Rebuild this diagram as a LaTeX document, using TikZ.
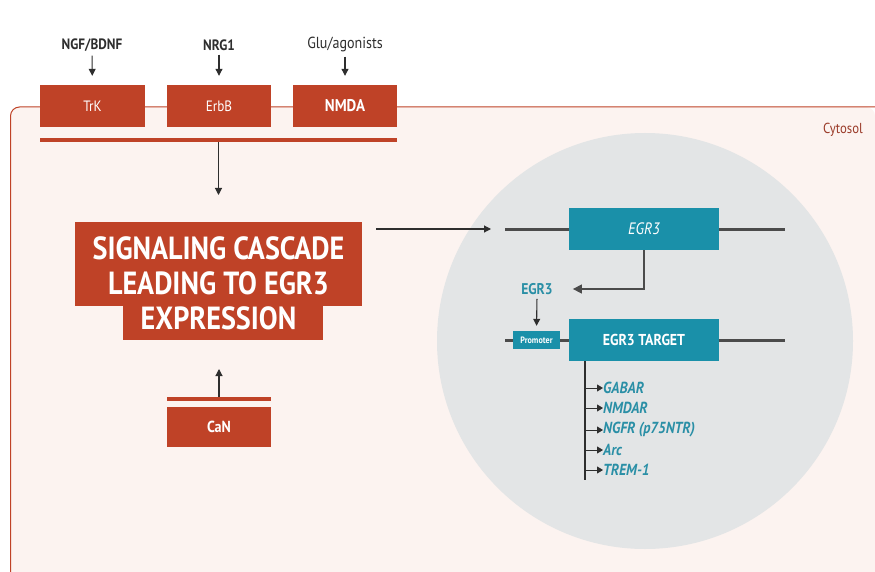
\documentclass[tikz,border=0pt]{standalone}
\usepackage{fontspec}
\setmainfont{PT Sans}[FakeStretch=0.88]
\usetikzlibrary{arrows.meta}
\definecolor{rust}{HTML}{BF4227}
\definecolor{rustdark}{HTML}{9A3A28}
\definecolor{teal}{HTML}{1A90A9}
\definecolor{tealtext}{HTML}{2A8FA6}
\definecolor{cytofill}{HTML}{FCF3F0}
\definecolor{nucfill}{HTML}{E3E5E6}
\definecolor{gline}{HTML}{4B4B4B}
\definecolor{ink}{HTML}{2E2E2E}
\tikzset{
  rbox/.style={fill=rust,text=white,inner sep=0pt,font=\fontsize{15}{17}\selectfont},
  tbox/.style={fill=teal,text=white,inner sep=0pt,minimum width=150pt,minimum height=42pt},
  toplbl/.style={text=ink,inner sep=1pt,font=\fontsize{16}{18}\selectfont},
  arr/.style={draw=ink,line width=1.1pt,-{Triangle[length=7pt,width=7pt]}},
  geneline/.style={draw=gline,line width=3pt},
  listlbl/.style={anchor=west,text=tealtext,inner sep=0pt,font=\fontsize{16}{18}\selectfont\bfseries\itshape},
}
\begin{document}
\begin{tikzpicture}[x=1pt,y=-1pt]
\useasboundingbox (0,0) rectangle (875,572);
\fill[white] (0,0) rectangle (875,572);
% cytosol
\fill[cytofill] (10.5,572) [rounded corners=9pt] -- (10.5,107) -- (875,107) [sharp corners] -- (875,572) -- cycle;
\draw[rust,line width=1pt] (10.5,572) [rounded corners=9pt] -- (10.5,107) -- (875,107);
\node[text=rustdark,font=\fontsize{14.5}{16}\selectfont,inner sep=0pt] (cyto) at (843,130) {Cytosol};
% nucleus
\fill[nucfill] (645,341) circle[radius=208pt];
% receptors
\node[rbox,minimum width=105pt,minimum height=42pt] (trk) at (92.5,106) {TrK};
\node[rbox,minimum width=104pt,minimum height=42pt] (erbb) at (219,106) {ErbB};
\node[rbox,minimum width=104pt,minimum height=42pt,font=\fontsize{17}{19}\selectfont\bfseries] (nmda) at (345,106) {NMDA};
\node[fill=rust,inner sep=0pt,minimum width=357pt,minimum height=4pt] (bar) at (218.5,140) {};
\node[toplbl,font=\fontsize{15}{17}\selectfont\bfseries] (ngf) at (92,45) {NGF/BDNF};
\node[toplbl,font=\fontsize{15}{17}\selectfont\bfseries] (nrg) at (219,45) {NRG1};
\node[toplbl] (glu) at (345,45) {Glu/agonists};
\draw[arr,shorten <=3pt,shorten >=9pt] (ngf) -- (trk);
\draw[arr,shorten <=3pt,shorten >=9pt] (nrg) -- (erbb);
\draw[arr,shorten <=3pt,shorten >=9pt] (glu) -- (nmda);
% cascade
\fill[rust] (75,222) rectangle (362,306);
\fill[rust] (123,305) rectangle (323,340);
\node[text=white,align=center,inner sep=0pt,font=\fontsize{32}{35}\selectfont\bfseries] (casc) at (218.5,283) {SIGNALING CASCADE\\LEADING TO EGR3\\EXPRESSION};
\coordinate (cascin) at (218.5,195);
\draw[arr] (bar.south) -- (cascin);
% CaN
\node[fill=rust,inner sep=0pt,minimum width=104pt,minimum height=4pt] (canbar) at (219,399) {};
\node[rbox,minimum width=104pt,minimum height=40pt,font=\fontsize{16}{18}\selectfont\bfseries] (can) at (219,427) {CaN};
\coordinate (canout) at (219,369);
\draw[arr] (canbar.north) -- (canout);
% EGR3 gene
\draw[geneline] (505,229) -- (785,229);
\node[tbox,font=\fontsize{16.5}{18}\selectfont\itshape] (egr3g) at (644,229) {EGR3};
\coordinate (cascout) at (376,229);
\coordinate (genein) at (491,229);
\draw[arr] (cascout) -- (genein);
\node[text=tealtext,inner sep=1pt,font=\fontsize{15.5}{17}\selectfont\bfseries] (egr3p) at (537,289) {EGR3};
\draw[gline,line width=1.3pt,-{Triangle[length=9pt,width=9pt]},shorten >=19pt] (egr3g.south) |- (egr3p.east);
% target gene
\draw[geneline] (505,340) -- (785,340);
\node[fill=teal,text=white,inner sep=0pt,minimum width=47pt,minimum height=18pt,font=\fontsize{9.2}{10}\selectfont\bfseries] (prom) at (536.5,340) {Promoter};
\node[tbox,font=\fontsize{15.8}{17}\selectfont\bfseries] (target) at (644,340) {EGR3 TARGET};
\draw[arr,shorten <=3pt,shorten >=5pt] (egr3p.south) -- (prom.north);
% target list
\coordinate (v0) at (585,361);
\coordinate (v1) at (585,480);
\draw[ink,line width=1.2pt] (v0) -- (v1);
\node[listlbl] (g1) at (603,388) {GABAR};
\node[listlbl] (g2) at (603,408) {NMDAR};
\node[listlbl] (g3) at (603,430) {NGFR (p75NTR)};
\node[listlbl] (g4) at (603,450) {Arc};
\node[listlbl] (g5) at (603,470) {TREM-1};
\foreach \g in {g1,g2,g3,g4,g5}{
  \draw[arr,line width=1pt,-{Triangle[length=6pt,width=7pt]}] (\g.west -| v0) -- (\g.west);
}
\end{tikzpicture}
\end{document}
